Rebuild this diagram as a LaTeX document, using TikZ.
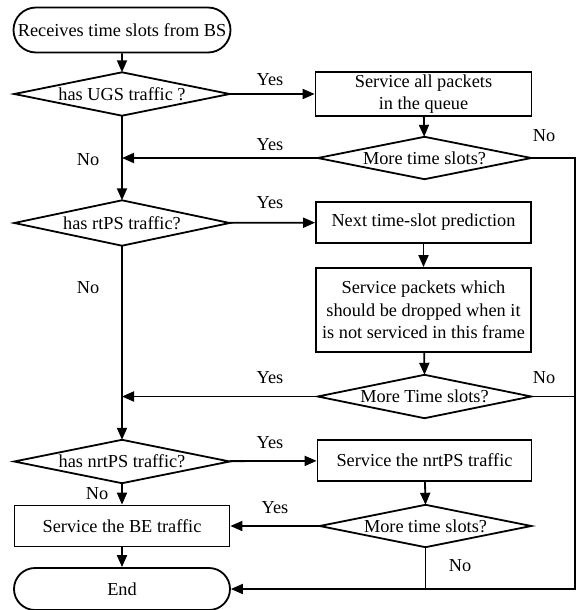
\documentclass[tikz,border=0pt]{standalone}
\usepackage{fontspec}
\setmainfont{Liberation Serif}
\usetikzlibrary{arrows.meta,shapes.misc}
\begin{document}
\begin{tikzpicture}[x=1pt,y=-1pt,
  font=\fontsize{18.3}{22.5}\selectfont,
  line/.style={line width=1.8pt,line join=miter},
  arr/.style={line,-{Triangle[length=12pt,width=10pt]}},
  procbox/.style={draw,line width=1.8pt,rectangle,inner sep=0pt,align=center},
  terminal/.style={draw,line width=1.8pt,rounded rectangle,inner sep=0pt,align=center},
  decision/.style={rectangle,inner sep=0pt,align=center},
  lbl/.style={inner sep=0pt}]
\useasboundingbox (0,0) rectangle (581,610);

% left column
\node[terminal,minimum width=217pt,minimum height=45pt] (start) at (122,30) {Receives time slots from BS};
\node[decision,minimum width=215pt,minimum height=43pt] (d1) at (122,94) {has UGS traffic ?};
\node[decision,minimum width=215pt,minimum height=45pt] (d3) at (122,223) {has rtPS traffic?};
\node[decision,minimum width=215pt,minimum height=43pt] (d5) at (122,461.5) {has nrtPS traffic?};
\node[procbox,minimum width=215pt,minimum height=41pt] (be) at (122,526) {Service the BE traffic};
\node[terminal,minimum width=216pt,minimum height=42pt] (end) at (122,589) {End};

% right column
\node[procbox,minimum width=216pt,minimum height=44pt] (b1) at (423.5,94) {Service all packets\\in the queue};
\node[decision,minimum width=213pt,minimum height=42pt] (d2) at (424.5,158) {More time slots?};
\node[procbox,minimum width=215pt,minimum height=41pt] (b2) at (423.5,222.5) {Next time-slot prediction};
\node[procbox,minimum width=215pt,minimum height=84pt] (b3) at (423.5,310) {Service packets which\\should be dropped when it\\is not serviced in this frame};
\node[decision,minimum width=213pt,minimum height=43pt] (d4) at (424.5,396.5) {More Time slots?};
\node[procbox,minimum width=214pt,minimum height=41pt] (b4) at (424.5,460.5) {Service the nrtPS traffic};
\node[decision,minimum width=211pt,minimum height=42pt] (d6) at (425.5,526) {More time slots?};

% diamond outlines of the decision nodes
\foreach \n in {d1,d2,d3,d4,d5,d6}
  \draw[line] (\n.west) -- (\n.north) -- (\n.east) -- (\n.south) -- cycle;

% return line on the right
\coordinate (rx) at (575,0);

% connectors
\draw[arr] (start) -- (d1);
\draw[arr] (d1) -- (b1);
\draw[arr] (b1) -- (d2);
\draw[arr] (d2.west) -- (d2.west -| d1.south);
\draw[arr] (d1.south) -- (d3.north);
\draw[arr] (d3) -- (b2);
\draw[arr] (b2) -- (b3);
\draw[arr] (b3) -- (d4.north);
\draw[arr] (d4.west) -- (d4.west -| d3.south);
\draw[arr] (d3.south) -- (d5.north);
\draw[arr] (d5) -- (b4);
\draw[arr] (b4) -- (d6.north);
\draw[arr] (d5.south) -- (be.north);
\draw[arr] (d6.west) -- (be.east);
\draw[arr] (be) -- (end);
\draw[arr] (d2.east) -- (d2.east -| rx) -- (rx |- end.east) -- (end.east);
\draw[line] (d4.east) -- (d4.east -| rx);
\draw[line] (d6.south) -- (d6.south |- end.east);

% branch labels
\node[lbl] (y1) at (270,80) {Yes};
\node[lbl] (y2) at (270,145) {Yes};
\node[lbl] (n1) at (88,160) {No};
\node[lbl] (n2) at (544,136) {No};
\node[lbl] (y3) at (270,203) {Yes};
\node[lbl] (n3) at (88,288) {No};
\node[lbl] (y4) at (270,378) {Yes};
\node[lbl] (n4) at (544,378) {No};
\node[lbl] (y5) at (270,443) {Yes};
\node[lbl] (n5) at (97,494) {No};
\node[lbl] (y6) at (275,508) {Yes};
\node[lbl] (n6) at (460,566) {No};
\end{tikzpicture}
\end{document}
